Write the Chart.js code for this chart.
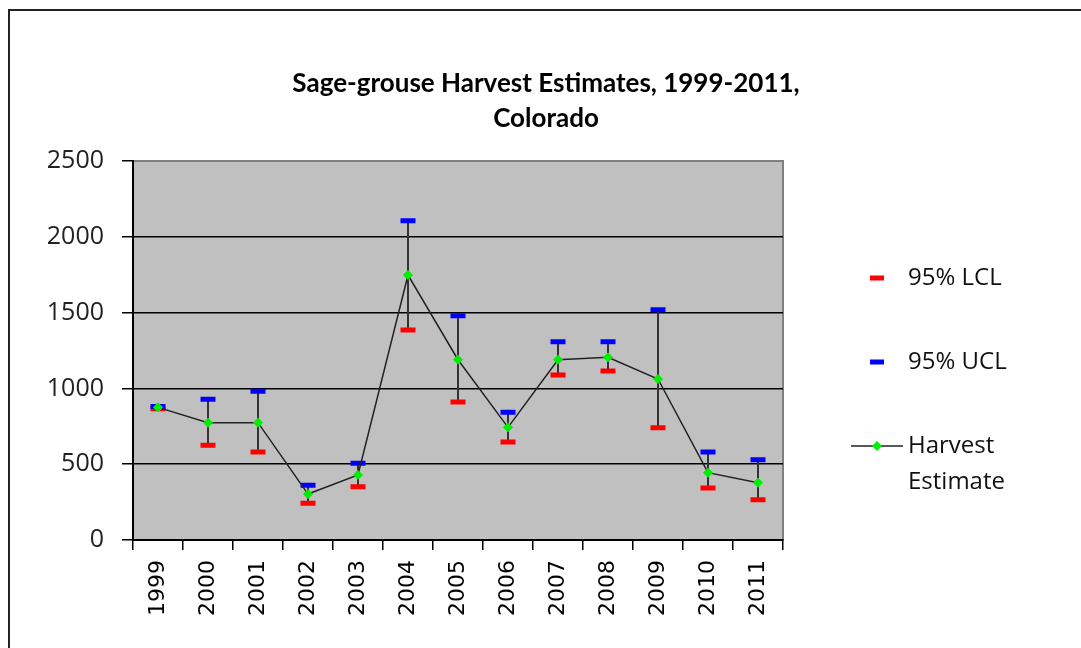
<!DOCTYPE html>
<html>
<head>
<meta charset="utf-8">
<script src="https://cdn.jsdelivr.net/npm/chart.js@4"></script>
<style>
  body { margin: 0; background: #fff; overflow: hidden; }
  #frame { position: absolute; left: 8px; top: 9px; width: 1100px; height: 700px; border: 2px solid #222; }
  #chart { position: absolute; left: 0; top: 0; }
</style>
</head>
<body>
<div id="frame"></div>
<canvas id="chart" width="1081" height="648"></canvas>
<script>
// data
const years = ['1999','2000','2001','2002','2003','2004','2005','2006','2007','2008','2009','2010','2011']
const estimate = [875, 774, 774, 303, 429, 1748, 1189, 743, 1189, 1205, 1062, 444, 378]
const lcl = [866, 625, 580, 242, 352, 1385, 910, 646, 1088, 1115, 741, 343, 266]
const ucl = [880, 928, 981, 361, 506, 2106, 1480, 842, 1308, 1308, 1519, 580, 530]
const yTicks = [0, 500, 1000, 1500, 2000, 2500]
const titleLines = ['Sage-grouse Harvest Estimates, 1999-2011,', 'Colorado']

const textFont = '"Open Sans", "Liberation Sans", sans-serif'

// grey plot area + frame
const plotBg = {
  id: 'plotBg',
  beforeDraw(chart) {
    const a = chart.chartArea, ctx = chart.ctx
    ctx.save()
    ctx.fillStyle = '#c0c0c0'
    ctx.fillRect(a.left, a.top, a.right - a.left, a.bottom - a.top)
    ctx.strokeStyle = '#808080'
    ctx.lineWidth = 2
    ctx.strokeRect(a.left, a.top, a.right - a.left, a.bottom - a.top)
    ctx.restore()
  }
}

// vertical error bars from LCL to UCL
const errorBars = {
  id: 'errorBars',
  beforeDatasetsDraw(chart) {
    const x = chart.scales.x, y = chart.scales.y, ctx = chart.ctx
    ctx.save()
    ctx.strokeStyle = '#333'
    ctx.lineWidth = 2
    years.forEach((yr, i) => {
      const px = x.getPixelForValue(i)
      ctx.beginPath()
      ctx.moveTo(px, y.getPixelForValue(lcl[i]))
      ctx.lineTo(px, y.getPixelForValue(ucl[i]))
      ctx.stroke()
    })
    ctx.restore()
  }
}

// title and legend drawn at the fixed spots used in the original
const titleLegend = {
  id: 'titleLegend',
  afterDraw(chart) {
    const ctx = chart.ctx
    ctx.save()
    ctx.fillStyle = '#000'
    ctx.textAlign = 'center'
    ctx.textBaseline = 'middle'
    ctx.font = 'bold 26px Lato, ' + textFont
    ctx.fillText(titleLines[0], 546, 84)
    ctx.fillText(titleLines[1], 546, 119)

    const ds = chart.data.datasets
    const mx = 877, tx = 908
    ctx.textAlign = 'left'
    ctx.font = '24px ' + textFont
    // LCL
    ctx.fillStyle = ds[0].pointBorderColor
    ctx.fillRect(mx - 7, 278 - 2.5, 14, 5)
    ctx.fillStyle = '#111'
    ctx.fillText(ds[0].label, tx, 278)
    // UCL
    ctx.fillStyle = ds[1].pointBorderColor
    ctx.fillRect(mx - 7, 362 - 2.5, 14, 5)
    ctx.fillStyle = '#111'
    ctx.fillText(ds[1].label, tx, 362)
    // Harvest estimate
    ctx.strokeStyle = ds[2].borderColor
    ctx.lineWidth = 1.5
    ctx.beginPath()
    ctx.moveTo(851, 446)
    ctx.lineTo(903, 446)
    ctx.stroke()
    ctx.fillStyle = ds[2].pointBackgroundColor
    ctx.beginPath()
    ctx.moveTo(mx, 441); ctx.lineTo(mx + 5, 446); ctx.lineTo(mx, 451); ctx.lineTo(mx - 5, 446)
    ctx.closePath()
    ctx.fill()
    ctx.fillStyle = '#111'
    const parts = ds[2].label.split(' ')
    ctx.fillText(parts[0], tx, 446)
    ctx.fillText(parts[1], tx, 482)
    ctx.restore()
  }
}

new Chart(document.getElementById('chart'), {
  type: 'line',
  data: {
    labels: years,
    datasets: [{
      label: '95% LCL',
      data: lcl,
      showLine: false,
      pointStyle: 'line',
      pointRadius: 7.5,
      pointHoverRadius: 7.5,
      pointBorderWidth: 5,
      pointBorderColor: '#ff0000',
      borderColor: '#ff0000',
      order: 2
    }, {
      label: '95% UCL',
      data: ucl,
      showLine: false,
      pointStyle: 'line',
      pointRadius: 7.5,
      pointHoverRadius: 7.5,
      pointBorderWidth: 5,
      pointBorderColor: '#0000ff',
      borderColor: '#0000ff',
      order: 1
    }, {
      label: 'Harvest Estimate',
      data: estimate,
      borderColor: '#222',
      borderWidth: 1.5,
      tension: 0,
      pointStyle: 'rectRot',
      pointRadius: 4.5,
      pointHoverRadius: 4.5,
      pointBackgroundColor: '#00ee00',
      pointBorderColor: '#00ee00',
      pointBorderWidth: 1,
      order: 0
    }]
  },
  options: {
    responsive: false,
    animation: false,
    devicePixelRatio: 1,
    layout: { padding: { left: 0, top: 161, right: 298, bottom: 0 } },
    plugins: {
      legend: { display: false },
      title: { display: false },
      tooltip: { enabled: false }
    },
    scales: {
      x: {
        offset: true,
        afterFit(s) { s.height = 108 },
        grid: { offset: true, drawOnChartArea: false, drawTicks: true, tickLength: 10, color: '#000', lineWidth: 1.5 },
        border: { color: '#000', width: 2 },
        ticks: {
          minRotation: 90, maxRotation: 90, padding: 10,
          color: '#000',
          font: { family: '"DejaVu Sans", sans-serif', size: 22 }
        }
      },
      y: {
        min: 0, max: 2500,
        afterFit(s) { s.width = 133 },
        afterBuildTicks(s) { s.ticks = yTicks.map(v => ({ value: v })) },
        grid: {
          color: c => c.tick.value === 2500 ? '#808080' : '#000',
          lineWidth: 1.5,
          tickColor: '#000',
          tickLength: 11
        },
        border: { color: '#000', width: 2 },
        ticks: {
          padding: 18,
          color: '#222',
          callback: v => String(v),
          font: { family: textFont, size: 25 }
        }
      }
    }
  },
  plugins: [plotBg, errorBars, titleLegend]
})
</script>
</body>
</html>
